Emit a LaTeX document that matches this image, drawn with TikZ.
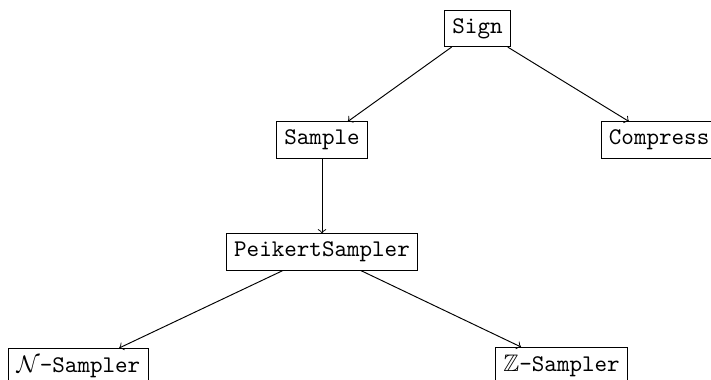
\documentclass[tikz,border=0pt]{standalone}
\usepackage{amssymb}
\usepackage{fontspec}
\begin{document}
\begin{tikzpicture}[x=0.41841pt,y=-0.41841pt,
  box/.style={draw,line width=0.4pt,font=\ttfamily,inner sep=3.333pt},
  edge/.style={->,line width=0.4pt}]
\useasboundingbox (0,0) rectangle (711,379);
\node[box] (sign) at (477.5,28.5) {Sign};
\node[box] (sample) at (322,140) {Sample};
\node[box,anchor=west] (compress) at (600.5,140) {Compress};
\node[box] (peikert) at (322,252) {PeikertSampler};
\node[box,anchor=north west] (nsamp) at (8.3,348) {$\mathcal{N}$-Sampler};
\node[box,anchor=north west] (zsamp) at (495,347) {$\mathbb{Z}$-Sampler};
\draw[edge] (sign) -- (sample);
\draw[edge] (sign) -- (compress);
\draw[edge] (sample) -- (peikert);
\draw[edge] (peikert) -- (nsamp);
\draw[edge] (peikert) -- (zsamp);
\end{tikzpicture}
\end{document}
